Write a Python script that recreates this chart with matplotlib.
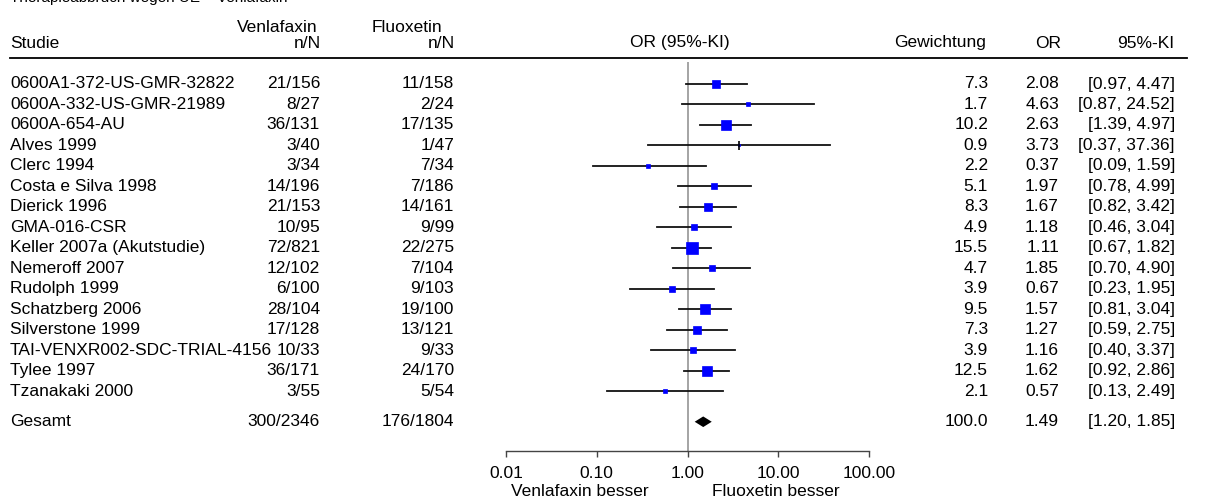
import matplotlib
matplotlib.use('Agg')
import matplotlib.pyplot as plt
import matplotlib.transforms as mtransforms
from matplotlib.lines import Line2D
import numpy as np

# ---------------- data ----------------
studies = ["0600A1-372-US-GMR-32822", "0600A-332-US-GMR-21989", "0600A-654-AU",
           "Alves 1999", "Clerc 1994", "Costa e Silva 1998", "Dierick 1996",
           "GMA-016-CSR", "Keller 2007a (Akutstudie)", "Nemeroff 2007",
           "Rudolph 1999", "Schatzberg 2006", "Silverstone 1999",
           "TAI-VENXR002-SDC-TRIAL-4156", "Tylee 1997", "Tzanakaki 2000"]
venla = ["21/156", "8/27", "36/131", "3/40", "3/34", "14/196", "21/153", "10/95",
         "72/821", "12/102", "6/100", "28/104", "17/128", "10/33", "36/171", "3/55"]
fluox = ["11/158", "2/24", "17/135", "1/47", "7/34", "7/186", "14/161", "9/99",
         "22/275", "7/104", "9/103", "19/100", "13/121", "9/33", "24/170", "5/54"]
weights = [7.3, 1.7, 10.2, 0.9, 2.2, 5.1, 8.3, 4.9, 15.5, 4.7, 3.9, 9.5, 7.3, 3.9, 12.5, 2.1]
or_vals = [2.08, 4.63, 2.63, 3.73, 0.37, 1.97, 1.67, 1.18, 1.11, 1.85, 0.67, 1.57, 1.27, 1.16, 1.62, 0.57]
ci_lo = [0.97, 0.87, 1.39, 0.37, 0.09, 0.78, 0.82, 0.46, 0.67, 0.70, 0.23, 0.81, 0.59, 0.40, 0.92, 0.13]
ci_hi = [4.47, 24.52, 4.97, 37.36, 1.59, 4.99, 3.42, 3.04, 1.82, 4.90, 1.95, 3.04, 2.75, 3.37, 2.86, 2.49]

total_label = "Gesamt"
total_venla = "300/2346"
total_fluox = "176/1804"
total_weight = 100.0
total_or = 1.49
total_lo = 1.20
total_hi = 1.85

xticks = [0.01, 0.1, 1, 10, 100]
xtick_labels = ["0.01", "0.10", "1.00", "10.00", "100.00"]

title_text = "Therapieabbruch wegen UE – Venlafaxin"
hdr_study = "Studie"
hdr_venla = "Venlafaxin"
hdr_fluox = "Fluoxetin"
hdr_nN = "n/N"
hdr_or_ci = "OR (95%-KI)"
hdr_weight = "Gewichtung"
hdr_or = "OR"
hdr_ci = "95%-KI"
label_left = "Venlafaxin besser"
label_right = "Fluoxetin besser"

# ---------------- layout ----------------
plt.rcParams['font.family'] = ['Liberation Sans', 'DejaVu Sans']
FS = 12.5
W, H = 1206, 501
fig = plt.figure(figsize=(W / 100, H / 100), dpi=100)


def fx(px):
    return px / W


def fy(py):
    return 1 - py / H


row0 = 84.0
step = 20.47
ax_top, ax_bot = 62, 451
ax_left, ax_right = 506, 869

ax = fig.add_axes([fx(ax_left), fy(ax_bot), (ax_right - ax_left) / W, (ax_bot - ax_top) / H])
ax.set_xscale('log')
ax.set_xlim(xticks[0], xticks[-1])
ax.set_ylim((ax_bot - row0) / step, (ax_top - row0) / step)
ax.patch.set_alpha(0)
for s in ['top', 'left', 'right']:
    ax.spines[s].set_visible(False)
ax.spines['bottom'].set_color('#444444')
ax.spines['bottom'].set_linewidth(1.0)
ax.set_yticks([])
ax.set_xticks(xticks)
ax.set_xticklabels(xtick_labels)
ax.minorticks_off()
ax.tick_params(axis='x', which='both', direction='out', length=4.5, width=1.0,
               color='#444444', pad=6, labelsize=FS)

# reference line
ax.axvline(1.0, color='#8c8c8c', lw=1.1, zorder=1)

rows = np.arange(len(studies))
total_row = len(studies) + 0.5

# CI lines and squares
for r, o, lo, hi, w in zip(rows, or_vals, ci_lo, ci_hi, weights):
    ax.plot([lo, hi], [r, r], color='#111111', lw=1.3, zorder=2)
    side_px = 3.0 * np.sqrt(w)
    ax.plot([o], [r], marker='s', ms=side_px * 0.72, color='#0000ff',
            mec='#0000ff', mew=0.5, zorder=3, linestyle='none')
    if w < 1:
        ax.plot([o], [r], marker='|', ms=9 * 0.72, color='black', mew=1.2, zorder=4,
                linestyle='none')

# pooled diamond
h = 5.3 / step
ax.fill([total_lo, total_or, total_hi, total_or],
        [total_row, total_row - h, total_row, total_row + h],
        color='black', zorder=3, lw=0)

# ---------------- text columns ----------------
tr = mtransforms.blended_transform_factory(fig.transFigure, ax.transData)
x_study, x_venla, x_fluox = 10, 320, 454
x_weight, x_or, x_ci = 988, 1059, 1175

for r, s, v, f, w, o, lo, hi in zip(rows, studies, venla, fluox, weights, or_vals, ci_lo, ci_hi):
    ax.text(fx(x_study), r, s, transform=tr, ha='left', va='center', fontsize=FS)
    ax.text(fx(x_venla), r, v, transform=tr, ha='right', va='center', fontsize=FS)
    ax.text(fx(x_fluox), r, f, transform=tr, ha='right', va='center', fontsize=FS)
    ax.text(fx(x_weight), r, f"{w:.1f}", transform=tr, ha='right', va='center', fontsize=FS)
    ax.text(fx(x_or), r, f"{o:.2f}", transform=tr, ha='right', va='center', fontsize=FS)
    ax.text(fx(x_ci), r, f"[{lo:.2f}, {hi:.2f}]", transform=tr, ha='right', va='center', fontsize=FS)

r = total_row
ax.text(fx(x_study), r, total_label, transform=tr, ha='left', va='center', fontsize=FS)
ax.text(fx(x_venla), r, total_venla, transform=tr, ha='right', va='center', fontsize=FS)
ax.text(fx(x_fluox), r, total_fluox, transform=tr, ha='right', va='center', fontsize=FS)
ax.text(fx(x_weight), r, f"{total_weight:.1f}", transform=tr, ha='right', va='center', fontsize=FS)
ax.text(fx(x_or), r, f"{total_or:.2f}", transform=tr, ha='right', va='center', fontsize=FS)
ax.text(fx(x_ci), r, f"[{total_lo:.2f}, {total_hi:.2f}]", transform=tr, ha='right', va='center', fontsize=FS)

# ---------------- headers ----------------
y_h1, y_h2 = 27, 43
# title: only its lower edge lies inside the picture, as in the reference
fig.text(fx(10), fy(2), title_text, ha='left', va='baseline', fontsize=11)
fig.text(fx(x_study), fy(y_h2), hdr_study, ha='left', va='center', fontsize=FS)
fig.text(fx(318), fy(y_h1), hdr_venla, ha='right', va='center', fontsize=FS)
fig.text(fx(321), fy(y_h2), hdr_nN, ha='right', va='center', fontsize=FS)
fig.text(fx(442), fy(y_h1), hdr_fluox, ha='right', va='center', fontsize=FS)
fig.text(fx(455), fy(y_h2), hdr_nN, ha='right', va='center', fontsize=FS)
fig.text(fx(680), fy(y_h2), hdr_or_ci, ha='center', va='center', fontsize=FS)
fig.text(fx(986), fy(y_h2), hdr_weight, ha='right', va='center', fontsize=FS)
fig.text(fx(1061), fy(y_h2), hdr_or, ha='right', va='center', fontsize=FS)
fig.text(fx(1174), fy(y_h2), hdr_ci, ha='right', va='center', fontsize=FS)

fig.add_artist(Line2D([fx(10), fx(1187)], [fy(57.5), fy(57.5)], color='black', lw=1.3))

fig.text(fx(580), fy(492), label_left, ha='center', va='center', fontsize=FS)
fig.text(fx(776), fy(492), label_right, ha='center', va='center', fontsize=FS)

fig.savefig('out.png', dpi=100, facecolor='white')
